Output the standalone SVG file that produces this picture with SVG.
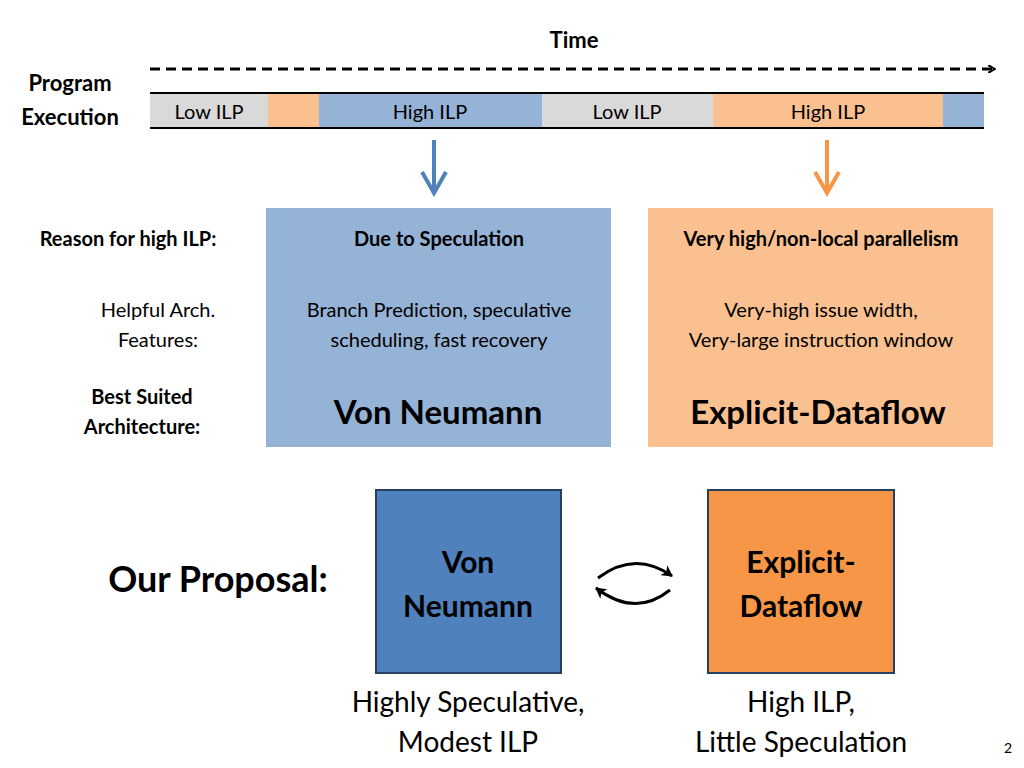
<svg xmlns="http://www.w3.org/2000/svg" width="1024" height="768" viewBox="0 0 1024 768">
<style>
text{font-family:Lato,"Open Sans","Liberation Sans",sans-serif;fill:#000}
.b{font-weight:bold}
.m{text-anchor:middle}
</style>
<defs>
<marker id="ah" markerWidth="8" markerHeight="8" refX="6" refY="4" orient="auto" markerUnits="userSpaceOnUse"><path d="M0,0 L7,4 L0,8" fill="none" stroke="#000" stroke-width="2"/></marker>
<marker id="ah2" markerWidth="12" markerHeight="12" refX="10" refY="6" orient="auto" markerUnits="userSpaceOnUse"><path d="M0,0 L11,6 L0,12 L3,6 Z" fill="#000"/></marker>
</defs>
<rect width="1024" height="768" fill="#fff"/>
<text x="574" y="48" class="b m" font-size="22">Time</text>
<g id="connectors">
<line x1="150" y1="69" x2="994" y2="69" stroke="#000" stroke-width="3" stroke-dasharray="10,6" marker-end="url(#ah)"/>
<path d="M434,140 V193 M422,172 L434,193 L446,172" fill="none" stroke="#4f81bd" stroke-width="4"/>
<path d="M827,140 V193 M815,172 L827,193 L839,172" fill="none" stroke="#f79646" stroke-width="4"/>
<path d="M598,578 Q635,550 672,576" fill="none" stroke="#000" stroke-width="3" marker-end="url(#ah2)"/>
<path d="M670,590 Q635,618 596,588" fill="none" stroke="#000" stroke-width="3" marker-end="url(#ah2)"/>
</g>
<text x="70" y="91" class="b m" font-size="22">Program</text>
<text x="70" y="125" class="b m" font-size="22">Execution</text>
<g id="bar">
<rect x="150" y="94" width="118" height="34" fill="#d9d9d9"/>
<rect x="268" y="94" width="51" height="34" fill="#fac090"/>
<rect x="319" y="94" width="223" height="34" fill="#95b3d7"/>
<rect x="542" y="94" width="171" height="34" fill="#d9d9d9"/>
<rect x="713" y="94" width="230" height="34" fill="#fac090"/>
<rect x="943" y="94" width="41" height="34" fill="#95b3d7"/>
<line x1="150" y1="93" x2="984" y2="93" stroke="#000" stroke-width="2"/>
<line x1="150" y1="128" x2="984" y2="128" stroke="#000" stroke-width="2"/>
<text x="209" y="119" class="m" font-size="20">Low ILP</text>
<text x="430" y="119" class="m" font-size="20">High ILP</text>
<text x="627" y="119" class="m" font-size="20">Low ILP</text>
<text x="828" y="119" class="m" font-size="20">High ILP</text>
</g>
<text x="128" y="246" class="b m" font-size="20">Reason for high ILP:</text>
<text x="158" y="317" class="m" font-size="20">Helpful Arch.</text>
<text x="158" y="347" class="m" font-size="20">Features:</text>
<text x="142" y="404" class="b m" font-size="20">Best Suited</text>
<text x="142" y="434" class="b m" font-size="20">Architecture:</text>
<g id="vonbox">
<rect x="266" y="208" width="345" height="239" fill="#95b3d7"/>
<text x="439" y="246" class="b m" font-size="20">Due to Speculation</text>
<text x="439" y="317" class="m" font-size="20">Branch Prediction, speculative</text>
<text x="439" y="347" class="m" font-size="20">scheduling, fast recovery</text>
<text x="438" y="424" class="b m" font-size="33">Von Neumann</text>
</g>
<g id="dfbox">
<rect x="648" y="208" width="345" height="239" fill="#fac090"/>
<text x="821" y="246" class="b m" font-size="20">Very high/non-local parallelism</text>
<text x="821" y="317" class="m" font-size="20">Very-high issue width,</text>
<text x="821" y="347" class="m" font-size="20">Very-large instruction window</text>
<text x="818" y="424" class="b m" font-size="33">Explicit-Dataflow</text>
</g>
<text x="218" y="592" class="b m" font-size="36">Our Proposal:</text>
<g id="von">
<rect x="376" y="490" width="185" height="183" fill="#4f81bd" stroke="#243f60" stroke-width="2"/>
<text x="468" y="573" class="b m" font-size="30">Von</text>
<text x="468" y="617" class="b m" font-size="30">Neumann</text>
</g>
<g id="df">
<rect x="708" y="490" width="186" height="183" fill="#f79646" stroke="#243f60" stroke-width="2"/>
<text x="801" y="573" class="b m" font-size="30">Explicit-</text>
<text x="801" y="617" class="b m" font-size="30">Dataflow</text>
</g>
<text x="468" y="712" class="m" font-size="28">Highly Speculative,</text>
<text x="468" y="752" class="m" font-size="28">Modest ILP</text>
<text x="801" y="712" class="m" font-size="28">High ILP,</text>
<text x="801" y="752" class="m" font-size="28">Little Speculation</text>
<text x="1008" y="753" class="m" font-size="14">2</text>
</svg>
